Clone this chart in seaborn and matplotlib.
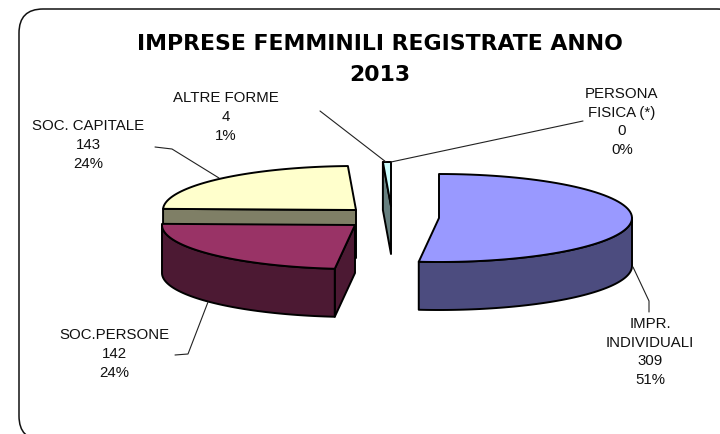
import numpy as np
import matplotlib
matplotlib.use("Agg")
import matplotlib.pyplot as plt
from matplotlib.patches import FancyBboxPatch, Polygon
import seaborn as sns

# Registered female-owned businesses, 2013
categories = ["IMPR.\nINDIVIDUALI", "SOC.PERSONE", "SOC. CAPITALE", "ALTRE FORME", "PERSONA\nFISICA (*)"]
values = [309, 142, 143, 4, 0]
percent_labels = ["51%", "24%", "24%", "1%", "0%"]
title_text = "IMPRESE FEMMINILI REGISTRATE ANNO\n2013"

top_colors = sns.color_palette(["#9999FF", "#993366", "#FFFFCC", "#CCFFFF", "#FFFFFF"])
side_colors = sns.color_palette(["#4C4C7F", "#4C1933", "#7F7F66", "#667F7F", "#7F7F7F"])

sns.set_theme(style="white")
plt.rcParams["font.family"] = ["Liberation Sans", "DejaVu Sans"]

fig, ax = plt.subplots(figsize=(7.2, 4.35), dpi=100)
ax.set_position([0, 0, 1, 1])
ax.set_xlim(0, 720)
ax.set_ylim(435, 0)
ax.axis("off")

# Rounded outer frame, running past the right and bottom edges
ax.add_patch(FancyBboxPatch((43, 34), 674, 383, boxstyle="round,pad=24,rounding_size=24",
                            fc="white", ec="#111111", lw=1.1, zorder=0))

# Shape of the tilted, exploded pie
RX, RY, DEPTH = 193, 44, 48
centers = [(439, 219), (355, 226), (356, 211), (391, 207), (391, 207)]
draw_order = [3, 2, 1, 0]
OUT = dict(ec="black", lw=1.4, joinstyle="round")


def rim(cx, cy, a0, a1, n=80):
    t = np.radians(np.linspace(a0, a1, n))
    return np.column_stack([cx + RX * np.sin(t), cy - RY * np.cos(t)])


fractions = np.array(values) / np.sum(values) * 360
starts = np.concatenate([[0], np.cumsum(fractions)[:-1]])

for i in draw_order:
    cx, cy = centers[i]
    a0, a1 = starts[i], starts[i] + fractions[i]
    arc = rim(cx, cy, a0, a1)
    drop = np.array([0, DEPTH])
    apex = np.array([cx, cy])

    # Cut face along the leading edge of the slice; the first slice hides its own
    if i != 0:
        first = arc[0]
        ax.add_patch(Polygon([first, apex, apex + drop, first + drop], fc=side_colors[i], zorder=3, **OUT))

    # Outer wall, only where the rim faces the viewer
    lo, hi = max(a0, 90), min(a1, 270)
    if hi > lo:
        wall = rim(cx, cy, lo, hi)
        ax.add_patch(Polygon(np.vstack([wall, (wall + drop)[::-1]]), fc=side_colors[i], zorder=3, **OUT))

    # Top face
    ax.add_patch(Polygon(np.vstack([apex, arc]), fc=top_colors[i], zorder=4, **OUT))

# Leader lines
leaders = [
    [(633, 268), (649, 302), (649, 313)],
    [(208, 303), (188, 355), (175, 356)],
    [(219, 179), (172, 150), (155, 148)],
    [(320, 112), (386, 163)],
    [(391, 163), (583, 122)],
]
for pts in leaders:
    xs, ys = zip(*pts)
    ax.plot(xs, ys, color="#222222", lw=0.8, zorder=5)

# Data labels: name, value and share
label_pos = [(650, 352), (114, 354), (88, 145), (226, 117), (622, 122)]
for name, val, pct, (x, y) in zip(categories, values, percent_labels, label_pos):
    ax.text(x, y, f"{name}\n{val}\n{pct}", ha="center", va="center", fontsize=10.8,
            color="#111111", linespacing=1.42, zorder=6)

ax.text(379.5, 59.5, title_text, ha="center", va="center", fontsize=15.85, fontweight="bold",
        family=["DejaVu Sans"], color="black", linespacing=1.72, zorder=6)

fig.savefig("out.png", dpi=100)
